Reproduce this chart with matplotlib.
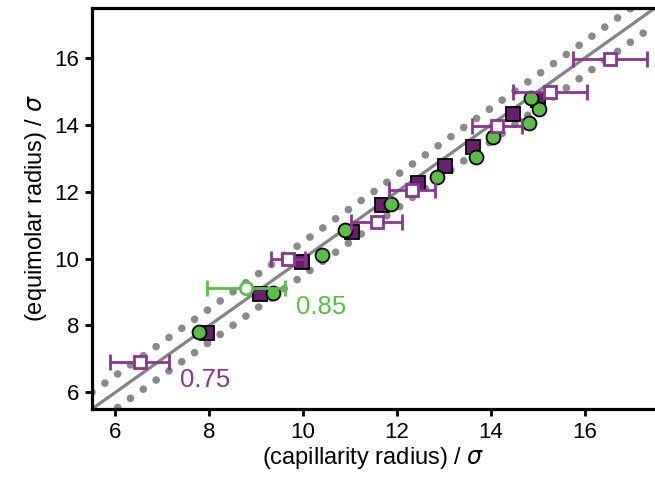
import numpy as np
import matplotlib
matplotlib.use("Agg")
import matplotlib.pyplot as plt

plt.rcParams['font.family'] = ['Liberation Sans', 'DejaVu Sans']
plt.rcParams['mathtext.fontset'] = 'dejavusans'

# filled purple squares
sq_x = [7.95, 9.08, 9.98, 11.04, 11.68, 12.45, 13.02, 13.62, 14.47, 15.01]
sq_y = [7.77, 8.94, 9.90, 10.80, 11.60, 12.26, 12.77, 13.34, 14.33, 14.75]

# green circles
ci_x = [7.78, 9.36, 10.40, 10.89, 11.87, 12.85, 13.68, 14.05, 14.81, 15.03, 14.86]
ci_y = [7.80, 8.97, 10.11, 10.86, 11.63, 12.44, 13.04, 13.64, 14.06, 14.48, 14.81]

# open purple squares with x error
op_x = [6.52, 9.68, 11.57, 12.32, 14.13, 15.26, 16.54]
op_y = [6.91, 9.99, 11.10, 12.05, 13.97, 14.99, 15.97]
op_xerr = [0.63, 0.36, 0.54, 0.49, 0.54, 0.78, 0.79]

# open green circle with x error
oc_x = [8.78]
oc_y = [9.12]
oc_xerr = [0.83]

purple = '#8a3590'
dpurple = '#6a1f6e'
green = '#5cbf45'
grey = '#848484'

fig = plt.figure(figsize=(6.55, 4.96), dpi=100)
ax = fig.add_axes([0.1405, 0.1754, 0.8595, 0.8085])

lo, hi = 5.5, 17.5
ax.plot([lo, hi], [lo, hi], color=grey, lw=2.3, zorder=1)
dots = (0, (0.01, 2.05))
ax.plot([lo, hi], [lo + 0.5, hi + 0.5], color='#8a8a8a', lw=5.5,
        linestyle=dots, dash_capstyle='round', zorder=1)
ax.plot([lo, hi], [lo - 0.5, hi - 0.5], color='#8a8a8a', lw=5.5,
        linestyle=dots, dash_capstyle='round', zorder=1)

ax.plot(sq_x, sq_y, 's', ms=9.5, mfc=dpurple, mec='black', mew=1.3, zorder=3)
ax.plot(ci_x, ci_y, 'o', ms=10, mfc=green, mec='black', mew=1.3, zorder=4)

ax.errorbar(op_x, op_y, xerr=op_xerr, fmt='s', ms=8.5, mfc='white', mec=purple,
            mew=2, ecolor=purple, elinewidth=2, capsize=6, capthick=2, zorder=5)
ax.errorbar(oc_x, oc_y, xerr=oc_xerr, fmt='o', ms=9, mfc='white', mec=green,
            mew=2, ecolor=green, elinewidth=2, capsize=6, capthick=2, zorder=5)

ax.text(7.38, 6.37, '0.75', color=purple, fontsize=18.5, va='center', ha='left')
ax.text(9.85, 8.55, '0.85', color=green, fontsize=18.5, va='center', ha='left')

ax.set_xlim(lo, hi)
ax.set_ylim(lo, hi)
ax.set_xticks([6, 8, 10, 12, 14, 16])
ax.set_yticks([6, 8, 10, 12, 14, 16])
ax.tick_params(direction='out', length=5, width=2, labelsize=16, pad=4)
for s in ['left', 'bottom', 'top']:
    ax.spines[s].set_linewidth(2.3)
ax.spines['right'].set_visible(False)

ax.set_xlabel(r'(capillarity radius) / $\sigma$', fontsize=17, labelpad=2)
ax.set_ylabel(r'(equimolar radius) / $\sigma$', fontsize=17, labelpad=4)

fig.savefig('out.png', dpi=100)
